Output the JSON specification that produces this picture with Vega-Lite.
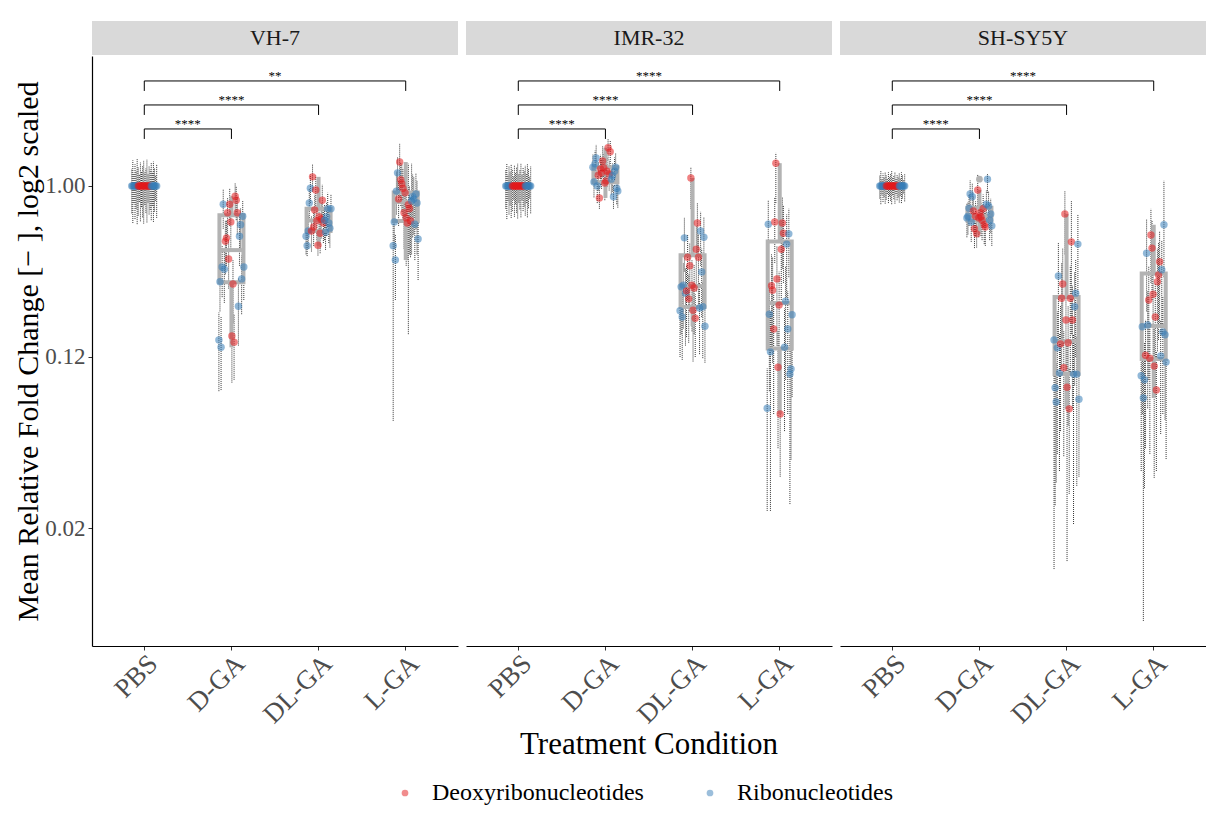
{
"$schema": "https://vega.github.io/schema/vega-lite/v6.json",
"padding": {"left": 13, "top": 20, "right": 0, "bottom": 6},
"background": "white",
"config": {
  "font": "Liberation Serif",
  "view": {"stroke": null},
  "axis": {"labelFont": "Liberation Serif", "titleFont": "Liberation Serif", "grid": false, "domainColor": "black", "tickColor": "#333333", "labelColor": "#4d4d4d", "titleColor": "black", "titleFontWeight": "normal"}
},
"datasets": {"d": [
{"cell":"VH-7","strip":true},{"cell":"IMR-32","strip":true},{"cell":"SH-SY5Y","strip":true},
{"cell":"VH-7","start":1,"end":2,"mid":1.5,"yb":1.0,"tip":0.825,"label":"****"},
{"cell":"VH-7","start":1,"end":3,"mid":2,"yb":1.421,"tip":1.246,"label":"****"},
{"cell":"VH-7","start":1,"end":4,"mid":2.5,"yb":1.842,"tip":1.667,"label":"**"},
{"cell":"IMR-32","start":1,"end":2,"mid":1.5,"yb":1.0,"tip":0.825,"label":"****"},
{"cell":"IMR-32","start":1,"end":3,"mid":2,"yb":1.421,"tip":1.246,"label":"****"},
{"cell":"IMR-32","start":1,"end":4,"mid":2.5,"yb":1.842,"tip":1.667,"label":"****"},
{"cell":"SH-SY5Y","start":1,"end":2,"mid":1.5,"yb":1.0,"tip":0.825,"label":"****"},
{"cell":"SH-SY5Y","start":1,"end":3,"mid":2,"yb":1.421,"tip":1.246,"label":"****"},
{"cell":"SH-SY5Y","start":1,"end":4,"mid":2.5,"yb":1.842,"tip":1.667,"label":"****"},

{"cell":"VH-7","cond":"PBS","nuc":"Ribonucleotides","id":1,"fc":0,"lo":-0.48,"hi":0.30},
{"cell":"VH-7","cond":"PBS","nuc":"Ribonucleotides","id":2,"fc":0,"lo":-0.65,"hi":0.45},
{"cell":"VH-7","cond":"PBS","nuc":"Ribonucleotides","id":3,"fc":0,"lo":-0.30,"hi":0.22},
{"cell":"VH-7","cond":"PBS","nuc":"Ribonucleotides","id":4,"fc":0,"lo":-0.58,"hi":0.38},
{"cell":"VH-7","cond":"PBS","nuc":"Ribonucleotides","id":5,"fc":0,"lo":-0.40,"hi":0.27},
{"cell":"VH-7","cond":"PBS","nuc":"Ribonucleotides","id":6,"fc":0,"lo":-0.67,"hi":0.47},
{"cell":"VH-7","cond":"PBS","nuc":"Deoxyribonucleotides","id":7,"fc":0,"lo":-0.52,"hi":0.33},
{"cell":"VH-7","cond":"PBS","nuc":"Deoxyribonucleotides","id":8,"fc":0,"lo":-0.28,"hi":0.20},
{"cell":"VH-7","cond":"PBS","nuc":"Deoxyribonucleotides","id":9,"fc":0,"lo":-0.62,"hi":0.41},
{"cell":"VH-7","cond":"PBS","nuc":"Deoxyribonucleotides","id":10,"fc":0,"lo":-0.37,"hi":0.26},
{"cell":"VH-7","cond":"PBS","nuc":"Deoxyribonucleotides","id":11,"fc":0,"lo":-0.55,"hi":0.36},
{"cell":"VH-7","cond":"PBS","nuc":"Deoxyribonucleotides","id":12,"fc":0,"lo":-0.66,"hi":0.44},
{"cell":"VH-7","cond":"PBS","nuc":"Deoxyribonucleotides","id":13,"fc":0,"lo":-0.33,"hi":0.24},
{"cell":"VH-7","cond":"PBS","nuc":"Deoxyribonucleotides","id":14,"fc":0,"lo":-0.47,"hi":0.31},
{"cell":"VH-7","cond":"PBS","nuc":"Deoxyribonucleotides","id":15,"fc":0,"lo":-0.64,"hi":0.46},
{"cell":"VH-7","cond":"PBS","nuc":"Deoxyribonucleotides","id":16,"fc":0,"lo":-0.29,"hi":0.21},
{"cell":"VH-7","cond":"PBS","nuc":"Deoxyribonucleotides","id":17,"fc":0,"lo":-0.50,"hi":0.35},
{"cell":"VH-7","cond":"PBS","nuc":"Deoxyribonucleotides","id":18,"fc":0,"lo":-0.42,"hi":0.29},
{"cell":"VH-7","cond":"PBS","nuc":"Ribonucleotides","id":19,"fc":0,"lo":-0.60,"hi":0.40},
{"cell":"VH-7","cond":"PBS","nuc":"Ribonucleotides","id":20,"fc":0,"lo":-0.35,"hi":0.25},
{"cell":"VH-7","cond":"PBS","nuc":"Ribonucleotides","id":21,"fc":0,"lo":-0.63,"hi":0.43},
{"cell":"VH-7","cond":"PBS","nuc":"Ribonucleotides","id":22,"fc":0,"lo":-0.45,"hi":0.32},
{"cell":"VH-7","cond":"PBS","nuc":"Ribonucleotides","id":23,"fc":0,"lo":-0.26,"hi":0.19},
{"cell":"VH-7","cond":"PBS","nuc":"Ribonucleotides","id":24,"fc":0,"lo":-0.56,"hi":0.37},

{"cell":"VH-7","cond":"D-GA","nuc":"Ribonucleotides","id":1,"fc":-2.70,"lo":-3.60,"hi":-2.22},
{"cell":"VH-7","cond":"D-GA","nuc":"Ribonucleotides","id":2,"fc":-1.68,"lo":-2.20,"hi":-1.30},
{"cell":"VH-7","cond":"D-GA","nuc":"Ribonucleotides","id":3,"fc":-2.83,"lo":-3.58,"hi":-2.30},
{"cell":"VH-7","cond":"D-GA","nuc":"Ribonucleotides","id":4,"fc":-1.42,"lo":-1.95,"hi":-1.05},
{"cell":"VH-7","cond":"D-GA","nuc":"Ribonucleotides","id":5,"fc":-0.32,"lo":-0.75,"hi":-0.05},
{"cell":"VH-7","cond":"D-GA","nuc":"Ribonucleotides","id":6,"fc":-1.46,"lo":-2.05,"hi":-1.10},
{"cell":"VH-7","cond":"D-GA","nuc":"Deoxyribonucleotides","id":7,"fc":-0.97,"lo":-1.55,"hi":-0.60},
{"cell":"VH-7","cond":"D-GA","nuc":"Deoxyribonucleotides","id":8,"fc":-0.91,"lo":-1.40,"hi":-0.60},
{"cell":"VH-7","cond":"D-GA","nuc":"Deoxyribonucleotides","id":9,"fc":-0.47,"lo":-0.90,"hi":-0.20},
{"cell":"VH-7","cond":"D-GA","nuc":"Deoxyribonucleotides","id":10,"fc":-1.28,"lo":-1.80,"hi":-0.95},
{"cell":"VH-7","cond":"D-GA","nuc":"Deoxyribonucleotides","id":11,"fc":-0.32,"lo":-0.70,"hi":-0.05},
{"cell":"VH-7","cond":"D-GA","nuc":"Deoxyribonucleotides","id":12,"fc":-0.63,"lo":-1.10,"hi":-0.33},
{"cell":"VH-7","cond":"D-GA","nuc":"Deoxyribonucleotides","id":13,"fc":-2.63,"lo":-3.45,"hi":-2.15},
{"cell":"VH-7","cond":"D-GA","nuc":"Deoxyribonucleotides","id":14,"fc":-1.72,"lo":-2.40,"hi":-1.30},
{"cell":"VH-7","cond":"D-GA","nuc":"Deoxyribonucleotides","id":15,"fc":-2.74,"lo":-3.40,"hi":-2.25},
{"cell":"VH-7","cond":"D-GA","nuc":"Deoxyribonucleotides","id":16,"fc":-0.18,"lo":-0.50,"hi":0.05},
{"cell":"VH-7","cond":"D-GA","nuc":"Deoxyribonucleotides","id":17,"fc":-0.25,"lo":-0.60,"hi":0.00},
{"cell":"VH-7","cond":"D-GA","nuc":"Deoxyribonucleotides","id":18,"fc":-0.47,"lo":-0.85,"hi":-0.20},
{"cell":"VH-7","cond":"D-GA","nuc":"Ribonucleotides","id":19,"fc":-2.11,"lo":-2.80,"hi":-1.62},
{"cell":"VH-7","cond":"D-GA","nuc":"Ribonucleotides","id":20,"fc":-0.88,"lo":-1.40,"hi":-0.52},
{"cell":"VH-7","cond":"D-GA","nuc":"Ribonucleotides","id":21,"fc":-0.68,"lo":-1.15,"hi":-0.38},
{"cell":"VH-7","cond":"D-GA","nuc":"Ribonucleotides","id":22,"fc":-1.63,"lo":-2.25,"hi":-1.22},
{"cell":"VH-7","cond":"D-GA","nuc":"Ribonucleotides","id":23,"fc":-0.53,"lo":-0.95,"hi":-0.25},
{"cell":"VH-7","cond":"D-GA","nuc":"Ribonucleotides","id":24,"fc":-1.42,"lo":-2.00,"hi":-1.05},

{"cell":"VH-7","cond":"DL-GA","nuc":"Ribonucleotides","id":1,"fc":-0.88,"lo":-1.20,"hi":-0.60},
{"cell":"VH-7","cond":"DL-GA","nuc":"Ribonucleotides","id":2,"fc":-1.05,"lo":-1.23,"hi":-0.80},
{"cell":"VH-7","cond":"DL-GA","nuc":"Ribonucleotides","id":3,"fc":-0.79,"lo":-1.10,"hi":-0.50},
{"cell":"VH-7","cond":"DL-GA","nuc":"Ribonucleotides","id":4,"fc":-0.30,"lo":-0.60,"hi":-0.05},
{"cell":"VH-7","cond":"DL-GA","nuc":"Ribonucleotides","id":5,"fc":-0.04,"lo":-0.30,"hi":0.20},
{"cell":"VH-7","cond":"DL-GA","nuc":"Deoxyribonucleotides","id":6,"fc":-0.79,"lo":-1.15,"hi":-0.52},
{"cell":"VH-7","cond":"DL-GA","nuc":"Deoxyribonucleotides","id":7,"fc":0.16,"lo":-0.10,"hi":0.39},
{"cell":"VH-7","cond":"DL-GA","nuc":"Deoxyribonucleotides","id":8,"fc":-0.72,"lo":-1.05,"hi":-0.45},
{"cell":"VH-7","cond":"DL-GA","nuc":"Deoxyribonucleotides","id":9,"fc":-0.42,"lo":-0.75,"hi":-0.15},
{"cell":"VH-7","cond":"DL-GA","nuc":"Deoxyribonucleotides","id":10,"fc":-0.07,"lo":-0.35,"hi":0.18},
{"cell":"VH-7","cond":"DL-GA","nuc":"Deoxyribonucleotides","id":11,"fc":-0.61,"lo":-0.95,"hi":-0.35},
{"cell":"VH-7","cond":"DL-GA","nuc":"Deoxyribonucleotides","id":12,"fc":-1.04,"lo":-1.22,"hi":-0.80},
{"cell":"VH-7","cond":"DL-GA","nuc":"Deoxyribonucleotides","id":13,"fc":-0.54,"lo":-0.90,"hi":-0.28},
{"cell":"VH-7","cond":"DL-GA","nuc":"Deoxyribonucleotides","id":14,"fc":-0.83,"lo":-1.18,"hi":-0.55},
{"cell":"VH-7","cond":"DL-GA","nuc":"Deoxyribonucleotides","id":15,"fc":-0.58,"lo":-0.92,"hi":-0.30},
{"cell":"VH-7","cond":"DL-GA","nuc":"Deoxyribonucleotides","id":16,"fc":-0.25,"lo":-0.55,"hi":0.02},
{"cell":"VH-7","cond":"DL-GA","nuc":"Deoxyribonucleotides","id":17,"fc":-0.65,"lo":-1.00,"hi":-0.38},
{"cell":"VH-7","cond":"DL-GA","nuc":"Ribonucleotides","id":18,"fc":-0.60,"lo":-0.95,"hi":-0.32},
{"cell":"VH-7","cond":"DL-GA","nuc":"Ribonucleotides","id":19,"fc":-0.81,"lo":-1.12,"hi":-0.55},
{"cell":"VH-7","cond":"DL-GA","nuc":"Ribonucleotides","id":20,"fc":-0.54,"lo":-0.88,"hi":-0.28},
{"cell":"VH-7","cond":"DL-GA","nuc":"Ribonucleotides","id":21,"fc":-0.40,"lo":-0.72,"hi":-0.12},
{"cell":"VH-7","cond":"DL-GA","nuc":"Ribonucleotides","id":22,"fc":-0.65,"lo":-1.00,"hi":-0.40},
{"cell":"VH-7","cond":"DL-GA","nuc":"Ribonucleotides","id":23,"fc":-0.74,"lo":-1.08,"hi":-0.45},
{"cell":"VH-7","cond":"DL-GA","nuc":"Ribonucleotides","id":24,"fc":-0.40,"lo":-0.70,"hi":-0.15},

{"cell":"VH-7","cond":"L-GA","nuc":"Ribonucleotides","id":1,"fc":-1.05,"lo":-4.12,"hi":-0.61},
{"cell":"VH-7","cond":"L-GA","nuc":"Ribonucleotides","id":2,"fc":-0.63,"lo":-1.10,"hi":-0.30},
{"cell":"VH-7","cond":"L-GA","nuc":"Ribonucleotides","id":3,"fc":-1.30,"lo":-2.00,"hi":-0.85},
{"cell":"VH-7","cond":"L-GA","nuc":"Ribonucleotides","id":4,"fc":-0.09,"lo":-0.50,"hi":0.25},
{"cell":"VH-7","cond":"L-GA","nuc":"Ribonucleotides","id":5,"fc":0.23,"lo":-0.15,"hi":0.50},
{"cell":"VH-7","cond":"L-GA","nuc":"Deoxyribonucleotides","id":6,"fc":-0.23,"lo":-0.70,"hi":0.10},
{"cell":"VH-7","cond":"L-GA","nuc":"Deoxyribonucleotides","id":7,"fc":0.42,"lo":-0.20,"hi":0.75},
{"cell":"VH-7","cond":"L-GA","nuc":"Deoxyribonucleotides","id":8,"fc":0.11,"lo":-0.35,"hi":0.42},
{"cell":"VH-7","cond":"L-GA","nuc":"Deoxyribonucleotides","id":9,"fc":0.04,"lo":-0.45,"hi":0.38},
{"cell":"VH-7","cond":"L-GA","nuc":"Deoxyribonucleotides","id":10,"fc":-0.04,"lo":-0.60,"hi":0.30},
{"cell":"VH-7","cond":"L-GA","nuc":"Deoxyribonucleotides","id":11,"fc":-0.47,"lo":-1.10,"hi":-0.10},
{"cell":"VH-7","cond":"L-GA","nuc":"Deoxyribonucleotides","id":12,"fc":-0.12,"lo":-0.75,"hi":0.22},
{"cell":"VH-7","cond":"L-GA","nuc":"Deoxyribonucleotides","id":13,"fc":-0.56,"lo":-1.40,"hi":-0.15},
{"cell":"VH-7","cond":"L-GA","nuc":"Deoxyribonucleotides","id":14,"fc":-0.65,"lo":-1.30,"hi":-0.25},
{"cell":"VH-7","cond":"L-GA","nuc":"Deoxyribonucleotides","id":15,"fc":-0.33,"lo":-2.60,"hi":0.39},
{"cell":"VH-7","cond":"L-GA","nuc":"Deoxyribonucleotides","id":16,"fc":-0.40,"lo":-1.20,"hi":0.00},
{"cell":"VH-7","cond":"L-GA","nuc":"Deoxyribonucleotides","id":17,"fc":-0.61,"lo":-1.25,"hi":-0.20},
{"cell":"VH-7","cond":"L-GA","nuc":"Ribonucleotides","id":18,"fc":-0.26,"lo":-1.20,"hi":0.39},
{"cell":"VH-7","cond":"L-GA","nuc":"Ribonucleotides","id":19,"fc":-0.19,"lo":-0.90,"hi":0.20},
{"cell":"VH-7","cond":"L-GA","nuc":"Ribonucleotides","id":20,"fc":-0.23,"lo":-0.85,"hi":0.15},
{"cell":"VH-7","cond":"L-GA","nuc":"Ribonucleotides","id":21,"fc":-0.67,"lo":-1.30,"hi":-0.25},
{"cell":"VH-7","cond":"L-GA","nuc":"Ribonucleotides","id":22,"fc":-0.14,"lo":-0.75,"hi":0.22},
{"cell":"VH-7","cond":"L-GA","nuc":"Ribonucleotides","id":23,"fc":-0.30,"lo":-1.20,"hi":0.10},
{"cell":"VH-7","cond":"L-GA","nuc":"Ribonucleotides","id":24,"fc":-0.93,"lo":-1.65,"hi":-0.45},

{"cell":"IMR-32","cond":"PBS","nuc":"Ribonucleotides","id":1,"fc":0,"lo":-0.40,"hi":0.28},
{"cell":"IMR-32","cond":"PBS","nuc":"Ribonucleotides","id":2,"fc":0,"lo":-0.58,"hi":0.40},
{"cell":"IMR-32","cond":"PBS","nuc":"Ribonucleotides","id":3,"fc":0,"lo":-0.26,"hi":0.20},
{"cell":"IMR-32","cond":"PBS","nuc":"Ribonucleotides","id":4,"fc":0,"lo":-0.50,"hi":0.35},
{"cell":"IMR-32","cond":"PBS","nuc":"Ribonucleotides","id":5,"fc":0,"lo":-0.34,"hi":0.24},
{"cell":"IMR-32","cond":"PBS","nuc":"Ribonucleotides","id":6,"fc":0,"lo":-0.56,"hi":0.38},
{"cell":"IMR-32","cond":"PBS","nuc":"Deoxyribonucleotides","id":7,"fc":0,"lo":-0.44,"hi":0.30},
{"cell":"IMR-32","cond":"PBS","nuc":"Deoxyribonucleotides","id":8,"fc":0,"lo":-0.24,"hi":0.18},
{"cell":"IMR-32","cond":"PBS","nuc":"Deoxyribonucleotides","id":9,"fc":0,"lo":-0.54,"hi":0.37},
{"cell":"IMR-32","cond":"PBS","nuc":"Deoxyribonucleotides","id":10,"fc":0,"lo":-0.32,"hi":0.23},
{"cell":"IMR-32","cond":"PBS","nuc":"Deoxyribonucleotides","id":11,"fc":0,"lo":-0.47,"hi":0.33},
{"cell":"IMR-32","cond":"PBS","nuc":"Deoxyribonucleotides","id":12,"fc":0,"lo":-0.57,"hi":0.39},
{"cell":"IMR-32","cond":"PBS","nuc":"Deoxyribonucleotides","id":13,"fc":0,"lo":-0.29,"hi":0.21},
{"cell":"IMR-32","cond":"PBS","nuc":"Deoxyribonucleotides","id":14,"fc":0,"lo":-0.41,"hi":0.29},
{"cell":"IMR-32","cond":"PBS","nuc":"Deoxyribonucleotides","id":15,"fc":0,"lo":-0.55,"hi":0.40},
{"cell":"IMR-32","cond":"PBS","nuc":"Deoxyribonucleotides","id":16,"fc":0,"lo":-0.25,"hi":0.19},
{"cell":"IMR-32","cond":"PBS","nuc":"Deoxyribonucleotides","id":17,"fc":0,"lo":-0.44,"hi":0.32},
{"cell":"IMR-32","cond":"PBS","nuc":"Deoxyribonucleotides","id":18,"fc":0,"lo":-0.36,"hi":0.26},
{"cell":"IMR-32","cond":"PBS","nuc":"Ribonucleotides","id":19,"fc":0,"lo":-0.52,"hi":0.36},
{"cell":"IMR-32","cond":"PBS","nuc":"Ribonucleotides","id":20,"fc":0,"lo":-0.30,"hi":0.22},
{"cell":"IMR-32","cond":"PBS","nuc":"Ribonucleotides","id":21,"fc":0,"lo":-0.55,"hi":0.38},
{"cell":"IMR-32","cond":"PBS","nuc":"Ribonucleotides","id":22,"fc":0,"lo":-0.39,"hi":0.30},
{"cell":"IMR-32","cond":"PBS","nuc":"Ribonucleotides","id":23,"fc":0,"lo":-0.22,"hi":0.17},
{"cell":"IMR-32","cond":"PBS","nuc":"Ribonucleotides","id":24,"fc":0,"lo":-0.48,"hi":0.34},

{"cell":"IMR-32","cond":"D-GA","nuc":"Ribonucleotides","id":1,"fc":0.33,"lo":0.08,"hi":0.55},
{"cell":"IMR-32","cond":"D-GA","nuc":"Ribonucleotides","id":2,"fc":0.07,"lo":-0.20,"hi":0.28},
{"cell":"IMR-32","cond":"D-GA","nuc":"Ribonucleotides","id":3,"fc":0.39,"lo":0.12,"hi":0.62},
{"cell":"IMR-32","cond":"D-GA","nuc":"Ribonucleotides","id":4,"fc":0.49,"lo":0.22,"hi":0.72},
{"cell":"IMR-32","cond":"D-GA","nuc":"Ribonucleotides","id":5,"fc":0.00,"lo":-0.30,"hi":0.22},
{"cell":"IMR-32","cond":"D-GA","nuc":"Deoxyribonucleotides","id":6,"fc":0.19,"lo":-0.08,"hi":0.42},
{"cell":"IMR-32","cond":"D-GA","nuc":"Deoxyribonucleotides","id":7,"fc":-0.21,"lo":-0.40,"hi":0.00},
{"cell":"IMR-32","cond":"D-GA","nuc":"Deoxyribonucleotides","id":8,"fc":0.30,"lo":0.02,"hi":0.55},
{"cell":"IMR-32","cond":"D-GA","nuc":"Deoxyribonucleotides","id":9,"fc":0.23,"lo":-0.05,"hi":0.48},
{"cell":"IMR-32","cond":"D-GA","nuc":"Deoxyribonucleotides","id":10,"fc":0.44,"lo":0.15,"hi":0.70},
{"cell":"IMR-32","cond":"D-GA","nuc":"Deoxyribonucleotides","id":11,"fc":0.32,"lo":0.05,"hi":0.56},
{"cell":"IMR-32","cond":"D-GA","nuc":"Deoxyribonucleotides","id":12,"fc":0.05,"lo":-0.25,"hi":0.30},
{"cell":"IMR-32","cond":"D-GA","nuc":"Deoxyribonucleotides","id":13,"fc":0.09,"lo":-0.20,"hi":0.33},
{"cell":"IMR-32","cond":"D-GA","nuc":"Deoxyribonucleotides","id":14,"fc":0.26,"lo":-0.02,"hi":0.50},
{"cell":"IMR-32","cond":"D-GA","nuc":"Deoxyribonucleotides","id":15,"fc":0.67,"lo":0.45,"hi":0.82},
{"cell":"IMR-32","cond":"D-GA","nuc":"Deoxyribonucleotides","id":16,"fc":0.21,"lo":-0.08,"hi":0.45},
{"cell":"IMR-32","cond":"D-GA","nuc":"Deoxyribonucleotides","id":17,"fc":0.60,"lo":0.35,"hi":0.80},
{"cell":"IMR-32","cond":"D-GA","nuc":"Ribonucleotides","id":18,"fc":0.12,"lo":-0.15,"hi":0.35},
{"cell":"IMR-32","cond":"D-GA","nuc":"Ribonucleotides","id":19,"fc":0.18,"lo":-0.10,"hi":0.40},
{"cell":"IMR-32","cond":"D-GA","nuc":"Ribonucleotides","id":20,"fc":-0.19,"lo":-0.40,"hi":0.02},
{"cell":"IMR-32","cond":"D-GA","nuc":"Ribonucleotides","id":21,"fc":0.26,"lo":0.00,"hi":0.50},
{"cell":"IMR-32","cond":"D-GA","nuc":"Ribonucleotides","id":22,"fc":0.33,"lo":0.06,"hi":0.58},
{"cell":"IMR-32","cond":"D-GA","nuc":"Ribonucleotides","id":23,"fc":-0.04,"lo":-0.32,"hi":0.18},
{"cell":"IMR-32","cond":"D-GA","nuc":"Ribonucleotides","id":24,"fc":-0.09,"lo":-0.38,"hi":0.12},

{"cell":"IMR-32","cond":"DL-GA","nuc":"Ribonucleotides","id":1,"fc":-2.19,"lo":-3.00,"hi":-1.75},
{"cell":"IMR-32","cond":"DL-GA","nuc":"Ribonucleotides","id":2,"fc":-1.77,"lo":-2.60,"hi":-1.40},
{"cell":"IMR-32","cond":"DL-GA","nuc":"Ribonucleotides","id":3,"fc":-2.30,"lo":-3.05,"hi":-1.85},
{"cell":"IMR-32","cond":"DL-GA","nuc":"Ribonucleotides","id":4,"fc":-1.74,"lo":-2.50,"hi":-1.35},
{"cell":"IMR-32","cond":"DL-GA","nuc":"Ribonucleotides","id":5,"fc":-0.91,"lo":-1.50,"hi":-0.55},
{"cell":"IMR-32","cond":"DL-GA","nuc":"Ribonucleotides","id":6,"fc":-1.88,"lo":-2.80,"hi":-1.45},
{"cell":"IMR-32","cond":"DL-GA","nuc":"Deoxyribonucleotides","id":7,"fc":-1.84,"lo":-2.65,"hi":-1.40},
{"cell":"IMR-32","cond":"DL-GA","nuc":"Deoxyribonucleotides","id":8,"fc":-1.25,"lo":-2.00,"hi":-0.85},
{"cell":"IMR-32","cond":"DL-GA","nuc":"Deoxyribonucleotides","id":9,"fc":-1.98,"lo":-2.75,"hi":-1.55},
{"cell":"IMR-32","cond":"DL-GA","nuc":"Deoxyribonucleotides","id":10,"fc":-1.40,"lo":-2.20,"hi":-1.00},
{"cell":"IMR-32","cond":"DL-GA","nuc":"Deoxyribonucleotides","id":11,"fc":0.14,"lo":-0.40,"hi":0.32},
{"cell":"IMR-32","cond":"DL-GA","nuc":"Deoxyribonucleotides","id":12,"fc":-1.74,"lo":-2.55,"hi":-1.30},
{"cell":"IMR-32","cond":"DL-GA","nuc":"Deoxyribonucleotides","id":13,"fc":-2.18,"lo":-3.08,"hi":-1.70},
{"cell":"IMR-32","cond":"DL-GA","nuc":"Deoxyribonucleotides","id":14,"fc":-1.79,"lo":-2.60,"hi":-1.38},
{"cell":"IMR-32","cond":"DL-GA","nuc":"Deoxyribonucleotides","id":15,"fc":-2.32,"lo":-3.00,"hi":-1.90},
{"cell":"IMR-32","cond":"DL-GA","nuc":"Deoxyribonucleotides","id":16,"fc":-1.11,"lo":-1.85,"hi":-0.70},
{"cell":"IMR-32","cond":"DL-GA","nuc":"Deoxyribonucleotides","id":17,"fc":-0.65,"lo":-1.20,"hi":-0.30},
{"cell":"IMR-32","cond":"DL-GA","nuc":"Deoxyribonucleotides","id":18,"fc":-1.25,"lo":-2.10,"hi":-0.85},
{"cell":"IMR-32","cond":"DL-GA","nuc":"Ribonucleotides","id":19,"fc":-2.14,"lo":-2.95,"hi":-1.70},
{"cell":"IMR-32","cond":"DL-GA","nuc":"Ribonucleotides","id":20,"fc":-0.79,"lo":-1.40,"hi":-0.45},
{"cell":"IMR-32","cond":"DL-GA","nuc":"Ribonucleotides","id":21,"fc":-1.51,"lo":-2.30,"hi":-1.10},
{"cell":"IMR-32","cond":"DL-GA","nuc":"Ribonucleotides","id":22,"fc":-2.12,"lo":-3.02,"hi":-1.68},
{"cell":"IMR-32","cond":"DL-GA","nuc":"Ribonucleotides","id":23,"fc":-0.90,"lo":-1.45,"hi":-0.55},
{"cell":"IMR-32","cond":"DL-GA","nuc":"Ribonucleotides","id":24,"fc":-2.46,"lo":-3.10,"hi":-2.00},

{"cell":"IMR-32","cond":"L-GA","nuc":"Ribonucleotides","id":1,"fc":-3.90,"lo":-5.70,"hi":-3.20},
{"cell":"IMR-32","cond":"L-GA","nuc":"Ribonucleotides","id":2,"fc":-0.67,"lo":-1.40,"hi":-0.25},
{"cell":"IMR-32","cond":"L-GA","nuc":"Ribonucleotides","id":3,"fc":-2.25,"lo":-3.60,"hi":-1.70},
{"cell":"IMR-32","cond":"L-GA","nuc":"Ribonucleotides","id":4,"fc":-2.91,"lo":-5.70,"hi":-2.20},
{"cell":"IMR-32","cond":"L-GA","nuc":"Deoxyribonucleotides","id":5,"fc":-1.75,"lo":-2.90,"hi":-1.20},
{"cell":"IMR-32","cond":"L-GA","nuc":"Deoxyribonucleotides","id":6,"fc":-1.83,"lo":-3.10,"hi":-1.25},
{"cell":"IMR-32","cond":"L-GA","nuc":"Deoxyribonucleotides","id":7,"fc":-2.51,"lo":-4.00,"hi":-1.90},
{"cell":"IMR-32","cond":"L-GA","nuc":"Deoxyribonucleotides","id":8,"fc":-0.63,"lo":-1.35,"hi":-0.20},
{"cell":"IMR-32","cond":"L-GA","nuc":"Deoxyribonucleotides","id":9,"fc":0.40,"lo":-0.30,"hi":0.58},
{"cell":"IMR-32","cond":"L-GA","nuc":"Deoxyribonucleotides","id":10,"fc":-1.63,"lo":-2.80,"hi":-1.05},
{"cell":"IMR-32","cond":"L-GA","nuc":"Deoxyribonucleotides","id":11,"fc":-3.18,"lo":-4.60,"hi":-2.55},
{"cell":"IMR-32","cond":"L-GA","nuc":"Deoxyribonucleotides","id":12,"fc":-2.09,"lo":-3.40,"hi":-1.50},
{"cell":"IMR-32","cond":"L-GA","nuc":"Deoxyribonucleotides","id":13,"fc":-4.00,"lo":-5.10,"hi":-3.30},
{"cell":"IMR-32","cond":"L-GA","nuc":"Deoxyribonucleotides","id":14,"fc":-1.11,"lo":-2.00,"hi":-0.60},
{"cell":"IMR-32","cond":"L-GA","nuc":"Deoxyribonucleotides","id":15,"fc":-0.65,"lo":-1.45,"hi":-0.20},
{"cell":"IMR-32","cond":"L-GA","nuc":"Deoxyribonucleotides","id":16,"fc":-0.83,"lo":-1.70,"hi":-0.35},
{"cell":"IMR-32","cond":"L-GA","nuc":"Ribonucleotides","id":17,"fc":-2.83,"lo":-4.30,"hi":-2.15},
{"cell":"IMR-32","cond":"L-GA","nuc":"Ribonucleotides","id":18,"fc":-2.02,"lo":-3.40,"hi":-1.40},
{"cell":"IMR-32","cond":"L-GA","nuc":"Ribonucleotides","id":19,"fc":-1.02,"lo":-1.95,"hi":-0.50},
{"cell":"IMR-32","cond":"L-GA","nuc":"Ribonucleotides","id":20,"fc":-2.51,"lo":-4.00,"hi":-1.85},
{"cell":"IMR-32","cond":"L-GA","nuc":"Ribonucleotides","id":21,"fc":-0.84,"lo":-1.60,"hi":-0.40},
{"cell":"IMR-32","cond":"L-GA","nuc":"Ribonucleotides","id":22,"fc":-3.30,"lo":-5.58,"hi":-2.60},
{"cell":"IMR-32","cond":"L-GA","nuc":"Ribonucleotides","id":23,"fc":-3.21,"lo":-4.80,"hi":-2.55},
{"cell":"IMR-32","cond":"L-GA","nuc":"Ribonucleotides","id":24,"fc":-2.26,"lo":-3.70,"hi":-1.65},

{"cell":"SH-SY5Y","cond":"PBS","nuc":"Ribonucleotides","id":1,"fc":0,"lo":-0.22,"hi":0.18},
{"cell":"SH-SY5Y","cond":"PBS","nuc":"Ribonucleotides","id":2,"fc":0,"lo":-0.32,"hi":0.26},
{"cell":"SH-SY5Y","cond":"PBS","nuc":"Ribonucleotides","id":3,"fc":0,"lo":-0.15,"hi":0.13},
{"cell":"SH-SY5Y","cond":"PBS","nuc":"Ribonucleotides","id":4,"fc":0,"lo":-0.28,"hi":0.22},
{"cell":"SH-SY5Y","cond":"PBS","nuc":"Ribonucleotides","id":5,"fc":0,"lo":-0.19,"hi":0.15},
{"cell":"SH-SY5Y","cond":"PBS","nuc":"Ribonucleotides","id":6,"fc":0,"lo":-0.31,"hi":0.25},
{"cell":"SH-SY5Y","cond":"PBS","nuc":"Deoxyribonucleotides","id":7,"fc":0,"lo":-0.24,"hi":0.19},
{"cell":"SH-SY5Y","cond":"PBS","nuc":"Deoxyribonucleotides","id":8,"fc":0,"lo":-0.14,"hi":0.12},
{"cell":"SH-SY5Y","cond":"PBS","nuc":"Deoxyribonucleotides","id":9,"fc":0,"lo":-0.30,"hi":0.24},
{"cell":"SH-SY5Y","cond":"PBS","nuc":"Deoxyribonucleotides","id":10,"fc":0,"lo":-0.18,"hi":0.15},
{"cell":"SH-SY5Y","cond":"PBS","nuc":"Deoxyribonucleotides","id":11,"fc":0,"lo":-0.26,"hi":0.21},
{"cell":"SH-SY5Y","cond":"PBS","nuc":"Deoxyribonucleotides","id":12,"fc":0,"lo":-0.32,"hi":0.26},
{"cell":"SH-SY5Y","cond":"PBS","nuc":"Deoxyribonucleotides","id":13,"fc":0,"lo":-0.16,"hi":0.14},
{"cell":"SH-SY5Y","cond":"PBS","nuc":"Deoxyribonucleotides","id":14,"fc":0,"lo":-0.23,"hi":0.18},
{"cell":"SH-SY5Y","cond":"PBS","nuc":"Deoxyribonucleotides","id":15,"fc":0,"lo":-0.31,"hi":0.25},
{"cell":"SH-SY5Y","cond":"PBS","nuc":"Deoxyribonucleotides","id":16,"fc":0,"lo":-0.14,"hi":0.12},
{"cell":"SH-SY5Y","cond":"PBS","nuc":"Deoxyribonucleotides","id":17,"fc":0,"lo":-0.25,"hi":0.20},
{"cell":"SH-SY5Y","cond":"PBS","nuc":"Deoxyribonucleotides","id":18,"fc":0,"lo":-0.20,"hi":0.16},
{"cell":"SH-SY5Y","cond":"PBS","nuc":"Ribonucleotides","id":19,"fc":0,"lo":-0.29,"hi":0.23},
{"cell":"SH-SY5Y","cond":"PBS","nuc":"Ribonucleotides","id":20,"fc":0,"lo":-0.17,"hi":0.14},
{"cell":"SH-SY5Y","cond":"PBS","nuc":"Ribonucleotides","id":21,"fc":0,"lo":-0.30,"hi":0.24},
{"cell":"SH-SY5Y","cond":"PBS","nuc":"Ribonucleotides","id":22,"fc":0,"lo":-0.22,"hi":0.19},
{"cell":"SH-SY5Y","cond":"PBS","nuc":"Ribonucleotides","id":23,"fc":0,"lo":-0.13,"hi":0.11},
{"cell":"SH-SY5Y","cond":"PBS","nuc":"Ribonucleotides","id":24,"fc":0,"lo":-0.27,"hi":0.22},

{"cell":"SH-SY5Y","cond":"D-GA","nuc":"Ribonucleotides","id":1,"fc":-0.56,"lo":-0.90,"hi":-0.30},
{"cell":"SH-SY5Y","cond":"D-GA","nuc":"Ribonucleotides","id":2,"fc":-0.53,"lo":-0.85,"hi":-0.28},
{"cell":"SH-SY5Y","cond":"D-GA","nuc":"Ribonucleotides","id":3,"fc":-0.39,"lo":-0.70,"hi":-0.15},
{"cell":"SH-SY5Y","cond":"D-GA","nuc":"Ribonucleotides","id":4,"fc":-0.14,"lo":-0.40,"hi":0.10},
{"cell":"SH-SY5Y","cond":"D-GA","nuc":"Ribonucleotides","id":5,"fc":-0.63,"lo":-0.98,"hi":-0.38},
{"cell":"SH-SY5Y","cond":"D-GA","nuc":"Ribonucleotides","id":6,"fc":-0.19,"lo":-0.48,"hi":0.05},
{"cell":"SH-SY5Y","cond":"D-GA","nuc":"Deoxyribonucleotides","id":7,"fc":-0.44,"lo":-0.80,"hi":-0.18},
{"cell":"SH-SY5Y","cond":"D-GA","nuc":"Deoxyribonucleotides","id":8,"fc":-0.75,"lo":-1.09,"hi":-0.48},
{"cell":"SH-SY5Y","cond":"D-GA","nuc":"Deoxyribonucleotides","id":9,"fc":-0.53,"lo":-0.88,"hi":-0.27},
{"cell":"SH-SY5Y","cond":"D-GA","nuc":"Deoxyribonucleotides","id":10,"fc":-0.84,"lo":-1.08,"hi":-0.55},
{"cell":"SH-SY5Y","cond":"D-GA","nuc":"Deoxyribonucleotides","id":11,"fc":-0.07,"lo":-0.35,"hi":0.21},
{"cell":"SH-SY5Y","cond":"D-GA","nuc":"Deoxyribonucleotides","id":12,"fc":-0.56,"lo":-0.90,"hi":-0.30},
{"cell":"SH-SY5Y","cond":"D-GA","nuc":"Deoxyribonucleotides","id":13,"fc":-0.47,"lo":-0.82,"hi":-0.22},
{"cell":"SH-SY5Y","cond":"D-GA","nuc":"Deoxyribonucleotides","id":14,"fc":-0.54,"lo":-0.88,"hi":-0.28},
{"cell":"SH-SY5Y","cond":"D-GA","nuc":"Deoxyribonucleotides","id":15,"fc":-0.60,"lo":-0.95,"hi":-0.33},
{"cell":"SH-SY5Y","cond":"D-GA","nuc":"Deoxyribonucleotides","id":16,"fc":-0.40,"lo":-0.72,"hi":-0.15},
{"cell":"SH-SY5Y","cond":"D-GA","nuc":"Deoxyribonucleotides","id":17,"fc":-0.68,"lo":-1.02,"hi":-0.40},
{"cell":"SH-SY5Y","cond":"D-GA","nuc":"Deoxyribonucleotides","id":18,"fc":-0.72,"lo":-1.05,"hi":-0.45},
{"cell":"SH-SY5Y","cond":"D-GA","nuc":"Ribonucleotides","id":19,"fc":-0.32,"lo":-0.62,"hi":-0.08},
{"cell":"SH-SY5Y","cond":"D-GA","nuc":"Ribonucleotides","id":20,"fc":0.12,"lo":-0.12,"hi":0.21},
{"cell":"SH-SY5Y","cond":"D-GA","nuc":"Ribonucleotides","id":21,"fc":-0.35,"lo":-0.68,"hi":-0.10},
{"cell":"SH-SY5Y","cond":"D-GA","nuc":"Ribonucleotides","id":22,"fc":-0.60,"lo":-0.95,"hi":-0.32},
{"cell":"SH-SY5Y","cond":"D-GA","nuc":"Ribonucleotides","id":23,"fc":-0.49,"lo":-0.82,"hi":-0.22},
{"cell":"SH-SY5Y","cond":"D-GA","nuc":"Ribonucleotides","id":24,"fc":-0.70,"lo":-1.05,"hi":-0.42},

{"cell":"SH-SY5Y","cond":"DL-GA","nuc":"Ribonucleotides","id":1,"fc":-2.70,"lo":-6.72,"hi":-2.10},
{"cell":"SH-SY5Y","cond":"DL-GA","nuc":"Ribonucleotides","id":2,"fc":-3.54,"lo":-5.60,"hi":-2.90},
{"cell":"SH-SY5Y","cond":"DL-GA","nuc":"Ribonucleotides","id":3,"fc":-3.79,"lo":-5.20,"hi":-3.10},
{"cell":"SH-SY5Y","cond":"DL-GA","nuc":"Ribonucleotides","id":4,"fc":-2.84,"lo":-4.70,"hi":-2.20},
{"cell":"SH-SY5Y","cond":"DL-GA","nuc":"Ribonucleotides","id":5,"fc":-1.58,"lo":-2.70,"hi":-1.00},
{"cell":"SH-SY5Y","cond":"DL-GA","nuc":"Ribonucleotides","id":6,"fc":-3.28,"lo":-5.00,"hi":-2.60},
{"cell":"SH-SY5Y","cond":"DL-GA","nuc":"Deoxyribonucleotides","id":7,"fc":-2.77,"lo":-4.30,"hi":-2.10},
{"cell":"SH-SY5Y","cond":"DL-GA","nuc":"Deoxyribonucleotides","id":8,"fc":-1.97,"lo":-3.20,"hi":-1.35},
{"cell":"SH-SY5Y","cond":"DL-GA","nuc":"Deoxyribonucleotides","id":9,"fc":-1.72,"lo":-2.80,"hi":-1.10},
{"cell":"SH-SY5Y","cond":"DL-GA","nuc":"Deoxyribonucleotides","id":10,"fc":-3.19,"lo":-4.74,"hi":-2.55},
{"cell":"SH-SY5Y","cond":"DL-GA","nuc":"Deoxyribonucleotides","id":11,"fc":-0.49,"lo":-1.20,"hi":-0.09},
{"cell":"SH-SY5Y","cond":"DL-GA","nuc":"Deoxyribonucleotides","id":12,"fc":-2.35,"lo":-3.80,"hi":-1.70},
{"cell":"SH-SY5Y","cond":"DL-GA","nuc":"Deoxyribonucleotides","id":13,"fc":-3.53,"lo":-6.58,"hi":-2.80},
{"cell":"SH-SY5Y","cond":"DL-GA","nuc":"Deoxyribonucleotides","id":14,"fc":-2.75,"lo":-4.20,"hi":-2.10},
{"cell":"SH-SY5Y","cond":"DL-GA","nuc":"Deoxyribonucleotides","id":15,"fc":-3.91,"lo":-5.40,"hi":-3.20},
{"cell":"SH-SY5Y","cond":"DL-GA","nuc":"Deoxyribonucleotides","id":16,"fc":-1.97,"lo":-3.30,"hi":-1.40},
{"cell":"SH-SY5Y","cond":"DL-GA","nuc":"Deoxyribonucleotides","id":17,"fc":-0.98,"lo":-2.60,"hi":-0.26},
{"cell":"SH-SY5Y","cond":"DL-GA","nuc":"Deoxyribonucleotides","id":18,"fc":-2.35,"lo":-3.90,"hi":-1.75},
{"cell":"SH-SY5Y","cond":"DL-GA","nuc":"Ribonucleotides","id":19,"fc":-3.30,"lo":-5.93,"hi":-2.60},
{"cell":"SH-SY5Y","cond":"DL-GA","nuc":"Ribonucleotides","id":20,"fc":-2.12,"lo":-3.50,"hi":-1.50},
{"cell":"SH-SY5Y","cond":"DL-GA","nuc":"Ribonucleotides","id":21,"fc":-1.88,"lo":-3.00,"hi":-1.30},
{"cell":"SH-SY5Y","cond":"DL-GA","nuc":"Ribonucleotides","id":22,"fc":-3.30,"lo":-5.26,"hi":-2.65},
{"cell":"SH-SY5Y","cond":"DL-GA","nuc":"Ribonucleotides","id":23,"fc":-1.02,"lo":-2.00,"hi":-0.50},
{"cell":"SH-SY5Y","cond":"DL-GA","nuc":"Ribonucleotides","id":24,"fc":-3.74,"lo":-5.10,"hi":-3.05},

{"cell":"SH-SY5Y","cond":"L-GA","nuc":"Ribonucleotides","id":1,"fc":-3.33,"lo":-5.00,"hi":-2.70},
{"cell":"SH-SY5Y","cond":"L-GA","nuc":"Ribonucleotides","id":2,"fc":-2.47,"lo":-4.00,"hi":-1.85},
{"cell":"SH-SY5Y","cond":"L-GA","nuc":"Ribonucleotides","id":3,"fc":-3.72,"lo":-7.63,"hi":-3.00},
{"cell":"SH-SY5Y","cond":"L-GA","nuc":"Ribonucleotides","id":4,"fc":-3.40,"lo":-5.30,"hi":-2.75},
{"cell":"SH-SY5Y","cond":"L-GA","nuc":"Deoxyribonucleotides","id":5,"fc":-2.97,"lo":-4.60,"hi":-2.35},
{"cell":"SH-SY5Y","cond":"L-GA","nuc":"Ribonucleotides","id":6,"fc":-1.18,"lo":-2.20,"hi":-0.58},
{"cell":"SH-SY5Y","cond":"L-GA","nuc":"Ribonucleotides","id":7,"fc":-2.44,"lo":-3.90,"hi":-1.85},
{"cell":"SH-SY5Y","cond":"L-GA","nuc":"Deoxyribonucleotides","id":8,"fc":-2.00,"lo":-3.40,"hi":-1.40},
{"cell":"SH-SY5Y","cond":"L-GA","nuc":"Deoxyribonucleotides","id":9,"fc":-3.02,"lo":-4.70,"hi":-2.40},
{"cell":"SH-SY5Y","cond":"L-GA","nuc":"Deoxyribonucleotides","id":10,"fc":-0.86,"lo":-1.70,"hi":-0.40},
{"cell":"SH-SY5Y","cond":"L-GA","nuc":"Deoxyribonucleotides","id":11,"fc":-1.09,"lo":-2.00,"hi":-0.60},
{"cell":"SH-SY5Y","cond":"L-GA","nuc":"Deoxyribonucleotides","id":12,"fc":-1.90,"lo":-3.20,"hi":-1.30},
{"cell":"SH-SY5Y","cond":"L-GA","nuc":"Deoxyribonucleotides","id":13,"fc":-3.16,"lo":-5.12,"hi":-2.50},
{"cell":"SH-SY5Y","cond":"L-GA","nuc":"Deoxyribonucleotides","id":14,"fc":-2.30,"lo":-3.70,"hi":-1.70},
{"cell":"SH-SY5Y","cond":"L-GA","nuc":"Deoxyribonucleotides","id":15,"fc":-3.58,"lo":-5.00,"hi":-2.90},
{"cell":"SH-SY5Y","cond":"L-GA","nuc":"Deoxyribonucleotides","id":16,"fc":-1.68,"lo":-2.90,"hi":-1.10},
{"cell":"SH-SY5Y","cond":"L-GA","nuc":"Deoxyribonucleotides","id":17,"fc":-1.56,"lo":-2.70,"hi":-1.00},
{"cell":"SH-SY5Y","cond":"L-GA","nuc":"Deoxyribonucleotides","id":18,"fc":-1.33,"lo":-2.40,"hi":-0.80},
{"cell":"SH-SY5Y","cond":"L-GA","nuc":"Ribonucleotides","id":19,"fc":-2.98,"lo":-4.35,"hi":-2.35},
{"cell":"SH-SY5Y","cond":"L-GA","nuc":"Ribonucleotides","id":20,"fc":-1.47,"lo":-2.60,"hi":-0.95},
{"cell":"SH-SY5Y","cond":"L-GA","nuc":"Ribonucleotides","id":21,"fc":-2.56,"lo":-4.00,"hi":-1.95},
{"cell":"SH-SY5Y","cond":"L-GA","nuc":"Ribonucleotides","id":22,"fc":-0.68,"lo":-1.60,"hi":0.09},
{"cell":"SH-SY5Y","cond":"L-GA","nuc":"Ribonucleotides","id":23,"fc":-2.61,"lo":-4.10,"hi":-2.00},
{"cell":"SH-SY5Y","cond":"L-GA","nuc":"Ribonucleotides","id":24,"fc":-3.09,"lo":-4.79,"hi":-2.45}
]},
"data": {"name": "d"},
"facet": {"column": {"field": "cell", "type": "nominal", "sort": ["VH-7", "IMR-32", "SH-SY5Y"],
  "header": {"labels": false, "title": "Treatment Condition", "titleOrient": "bottom", "titleFont": "Liberation Serif", "titleFontSize": 31, "titleFontWeight": "normal", "titleColor": "black", "titlePadding": -8}}},
"spacing": 8,
"resolve": {"scale": {"x": "independent", "xOffset": "independent"}},
"spec": {
  "width": 366,
  "height": 625,
  "layer": [
    {
      "transform": [{"filter": "isValid(datum.fc)"}],
      "encoding": {
        "x": {"field": "cond", "type": "nominal", "sort": ["PBS", "D-GA", "DL-GA", "L-GA"],
          "scale": {"domain": ["PBS", "D-GA", "DL-GA", "L-GA"], "paddingInner": 0, "paddingOuter": 0.1},
          "axis": {"title": null, "labelAngle": -45, "labelAlign": "right", "labelBaseline": "top", "labelFontSize": 27, "labelPadding": 0, "tickSize": 4, "domainWidth": 1.2, "labelColor": "#4d4d4d"}}
      },
      "layer": [
        {"mark": {"type": "rule", "strokeDash": [1, 1], "strokeWidth": 0.8, "color": "black"},
         "encoding": {
           "xOffset": {"field": "id", "type": "ordinal", "scale": {"range": [30.5, 56.5], "paddingInner": 0, "paddingOuter": 0}},
           "y": {"field": "lo", "type": "quantitative", "title": "Mean Relative Fold Change [− ], log2 scaled",
             "scale": {"domain": [-8.07, 2.28], "range": [625, 35], "nice": false, "zero": false},
             "axis": {"title": "Mean Relative Fold Change [− ], log2 scaled", "values": [0, -3, -6], "labelExpr": "format(pow(2, datum.value) - 1e-9, '.2f')", "labelFontSize": 23, "tickSize": 4, "labelPadding": 3, "titleFontSize": 30, "titlePadding": 1, "domainWidth": 1.2, "labelColor": "#4d4d4d"}},
           "y2": {"field": "hi"}
         }},
        {"mark": {"type": "boxplot", "extent": 1.5, "size": 24, "color": "#b3b3b3",
           "box": {"fill": "white", "fillOpacity": 0, "stroke": "#b3b3b3", "strokeWidth": 4},
           "median": {"color": "#b3b3b3", "thickness": 4, "opacity": 1},
           "rule": {"color": "#b3b3b3", "strokeWidth": 4},
           "ticks": false,
           "outliers": {"color": "#b3b3b3", "size": 45, "filled": true, "opacity": 1}},
         "encoding": {"y": {"field": "fc", "type": "quantitative", "title": "Mean Relative Fold Change [− ], log2 scaled"}}},
        {"mark": {"type": "circle", "size": 55, "opacity": 0.55},
         "encoding": {
           "xOffset": {"field": "id", "type": "ordinal"},
           "y": {"field": "fc", "type": "quantitative", "title": "Mean Relative Fold Change [− ], log2 scaled"},
           "color": {"field": "nuc", "type": "nominal",
             "scale": {"domain": ["Deoxyribonucleotides", "Ribonucleotides"], "range": ["#E41A1C", "#377EB8"]},
             "legend": {"title": null, "orient": "none", "legendX": 301, "legendY": 760, "direction": "horizontal", "labelFont": "Liberation Serif", "labelFontSize": 24, "labelColor": "black", "labelLimit": 0, "labelOffset": 15, "symbolSize": 45, "symbolOpacity": 0.5, "columnPadding": 54, "symbolType": "circle"}}
         }}
      ]
    },
    {
      "transform": [{"filter": "isValid(datum.strip)"}],
      "layer": [
        {"mark": {"type": "rect", "color": "#d9d9d9"},
         "encoding": {
           "x": {"datum": 0.4, "type": "quantitative", "scale": {"domain": [0.4, 4.6], "nice": false, "zero": false}, "axis": null},
           "x2": {"datum": 4.6},
           "y": {"datum": 2.894, "type": "quantitative", "title": "Mean Relative Fold Change [− ], log2 scaled"},
           "y2": {"datum": 2.2975}
         }},
        {"mark": {"type": "text", "fontSize": 22, "color": "#1a1a1a", "baseline": "middle", "font": "Liberation Serif"},
         "encoding": {
           "x": {"datum": 2.5, "type": "quantitative", "axis": null},
           "y": {"datum": 2.596, "type": "quantitative", "title": "Mean Relative Fold Change [− ], log2 scaled"},
           "text": {"field": "cell"}
         }}
      ]
    },
    {
      "transform": [{"filter": "isValid(datum.label)"}],
      "layer": [
        {"mark": {"type": "rule", "color": "black", "strokeWidth": 1},
         "encoding": {
           "x": {"field": "start", "type": "quantitative", "scale": {"domain": [0.4, 4.6], "nice": false, "zero": false}, "axis": null},
           "x2": {"field": "end"},
           "y": {"field": "yb", "type": "quantitative", "title": "Mean Relative Fold Change [− ], log2 scaled"}
         }},
        {"mark": {"type": "rule", "color": "black", "strokeWidth": 1},
         "encoding": {
           "x": {"field": "start", "type": "quantitative", "axis": null},
           "y": {"field": "yb", "type": "quantitative", "title": "Mean Relative Fold Change [− ], log2 scaled"},
           "y2": {"field": "tip"}
         }},
        {"mark": {"type": "rule", "color": "black", "strokeWidth": 1},
         "encoding": {
           "x": {"field": "end", "type": "quantitative", "axis": null},
           "y": {"field": "yb", "type": "quantitative", "title": "Mean Relative Fold Change [− ], log2 scaled"},
           "y2": {"field": "tip"}
         }},
        {"mark": {"type": "text", "fontSize": 13, "baseline": "alphabetic", "dy": -1, "color": "black", "font": "Liberation Serif"},
         "encoding": {
           "x": {"field": "mid", "type": "quantitative", "axis": null},
           "y": {"field": "yb", "type": "quantitative", "title": "Mean Relative Fold Change [− ], log2 scaled"},
           "text": {"field": "label"}
         }}
      ]
    }
  ],
  "resolve": {"scale": {"x": "independent"}}
}
}
